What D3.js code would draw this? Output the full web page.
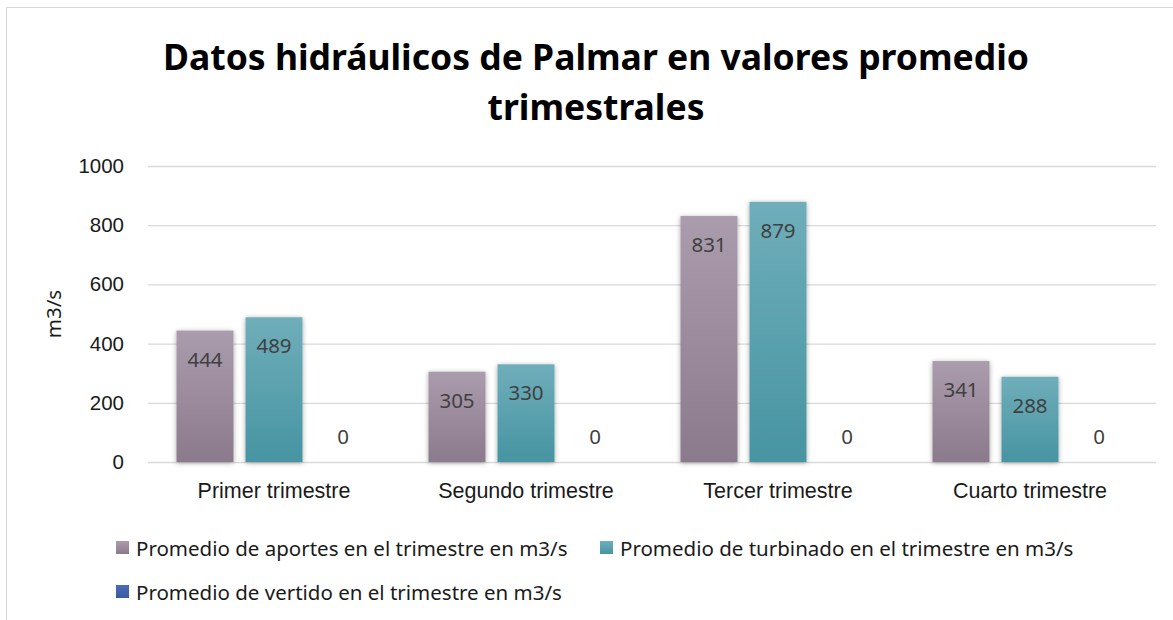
<!DOCTYPE html>
<html>
<head>
<meta charset="utf-8">
<script src="https://cdn.jsdelivr.net/npm/d3@7"></script>
<style>
  body { margin: 0; background: #fff; }
  svg { font-family: "Noto Sans", "Open Sans", sans-serif; }
</style>
</head>
<body>
<svg id="chart" width="1173" height="620"></svg>
<script>
// chart data
const categories = ["Primer trimestre", "Segundo trimestre", "Tercer trimestre", "Cuarto trimestre"];
const seriesNames = [
  "Promedio de aportes en el trimestre en m3/s",
  "Promedio de turbinado en el trimestre en m3/s",
  "Promedio de vertido en el trimestre en m3/s"
];
const aportes = [444, 305, 831, 341];
const turbinado = [489, 330, 879, 288];
const vertido = [0, 0, 0, 0];
const yTicks = [0, 200, 400, 600, 800, 1000];

const series = [aportes, turbinado, vertido];
const colors = [
  { top: "#ab9cad", bottom: "#8b7a8c" },
  { top: "#6faeba", bottom: "#4794a2" },
  { top: "#4a6cb6", bottom: "#3a5aa0" }
];

const svg = d3.select("#chart");
const margin = { left: 148, right: 17, top: 166, bottom: 158 };
const W = 1173, H = 620;

// outer frame
svg.append("rect")
  .attr("x", 6.5).attr("y", 7.5)
  .attr("width", W + 10).attr("height", H + 10)
  .attr("fill", "none").attr("stroke", "#d9d9d9");

const defs = svg.append("defs");
colors.forEach((c, i) => {
  const g = defs.append("linearGradient").attr("id", "grad" + i)
    .attr("x1", 0).attr("y1", 0).attr("x2", 0).attr("y2", 1);
  g.append("stop").attr("offset", "0%").attr("stop-color", c.top);
  g.append("stop").attr("offset", "100%").attr("stop-color", c.bottom);
});
const f = defs.append("filter").attr("id", "shadow")
  .attr("x", "-30%").attr("y", "-10%").attr("width", "160%").attr("height", "120%");
f.append("feDropShadow").attr("dx", 0).attr("dy", 1).attr("stdDeviation", 2.5)
  .attr("flood-color", "#000").attr("flood-opacity", 0.35);

const x = d3.scaleBand().domain(categories)
  .range([margin.left, W - margin.right]);
const y = d3.scaleLinear().domain([0, 1000])
  .range([H - margin.bottom, margin.top]);

const barW = 57, barStep = 69;

// gridlines
svg.append("g").selectAll("line").data(yTicks).join("line")
  .attr("x1", margin.left).attr("x2", W - margin.right)
  .attr("y1", d => y(d) + 0.5).attr("y2", d => y(d) + 0.5)
  .attr("stroke", "#d9d9d9").attr("stroke-width", 1.3);

// y axis labels
const yAxis = d3.axisLeft(y).tickValues(yTicks).tickFormat(d3.format("d"))
  .tickSize(0).tickPadding(24);
svg.append("g").attr("transform", `translate(${margin.left},0)`)
  .call(yAxis)
  .call(g => g.select(".domain").remove())
  .call(g => g.selectAll("text").attr("font-size", 20.5).attr("fill", "#1a1a1a")
    .attr("font-family", "inherit"));

// x axis labels
const xAxis = d3.axisBottom(x).tickSize(0).tickPadding(21);
svg.append("g").attr("transform", `translate(0,${y(0)})`)
  .call(xAxis)
  .call(g => g.select(".domain").remove())
  .call(g => g.selectAll("text").attr("font-size", 21.5).attr("fill", "#1a1a1a")
    .attr("font-family", "inherit"));

// bars
series.forEach((vals, si) => {
  const off = (si - 1) * barStep - barW / 2;
  svg.append("g").selectAll("rect").data(vals).join("rect")
    .attr("x", (d, i) => x.bandwidth() / 2 + x(categories[i]) + off)
    .attr("y", d => y(d))
    .attr("width", barW)
    .attr("height", d => y(0) - y(d))
    .attr("fill", `url(#grad${si})`)
    .attr("filter", d => d > 0 ? "url(#shadow)" : null);

  svg.append("g").selectAll("text").data(vals).join("text")
    .attr("x", (d, i) => x.bandwidth() / 2 + x(categories[i]) + off + barW / 2)
    .attr("y", d => d > 0 ? y(d) + 36 : y(0) - 18)
    .attr("text-anchor", "middle")
    .attr("font-size", 20.5)
    .attr("fill", "#404040")
    .text(d => d);
});

// title
const title = svg.append("text")
  .attr("x", 596).attr("text-anchor", "middle")
  .attr("font-weight", "bold").attr("font-size", 35.5).attr("fill", "#000");
title.append("tspan").attr("x", 596).attr("y", 70).text("Datos hidráulicos de Palmar en valores promedio");
title.append("tspan").attr("x", 596).attr("y", 120).text("trimestrales");

// y axis title
svg.append("text")
  .attr("transform", "translate(61,314) rotate(-90)")
  .attr("text-anchor", "middle").attr("font-size", 20.5).attr("fill", "#1a1a1a")
  .text("m3/s");

// legend
const legendPos = [[116, 548], [600, 548], [116, 592]];
const lg = svg.append("g").selectAll("g").data(seriesNames).join("g")
  .attr("transform", (d, i) => `translate(${legendPos[i][0]},${legendPos[i][1]})`);
lg.append("rect").attr("x", 0).attr("y", -7).attr("width", 13).attr("height", 13)
  .attr("fill", (d, i) => `url(#grad${i})`);
lg.append("text").attr("x", 20).attr("y", 7.5).attr("font-size", 20.5).attr("fill", "#1a1a1a")
  .text(d => d);
</script>
</body>
</html>
